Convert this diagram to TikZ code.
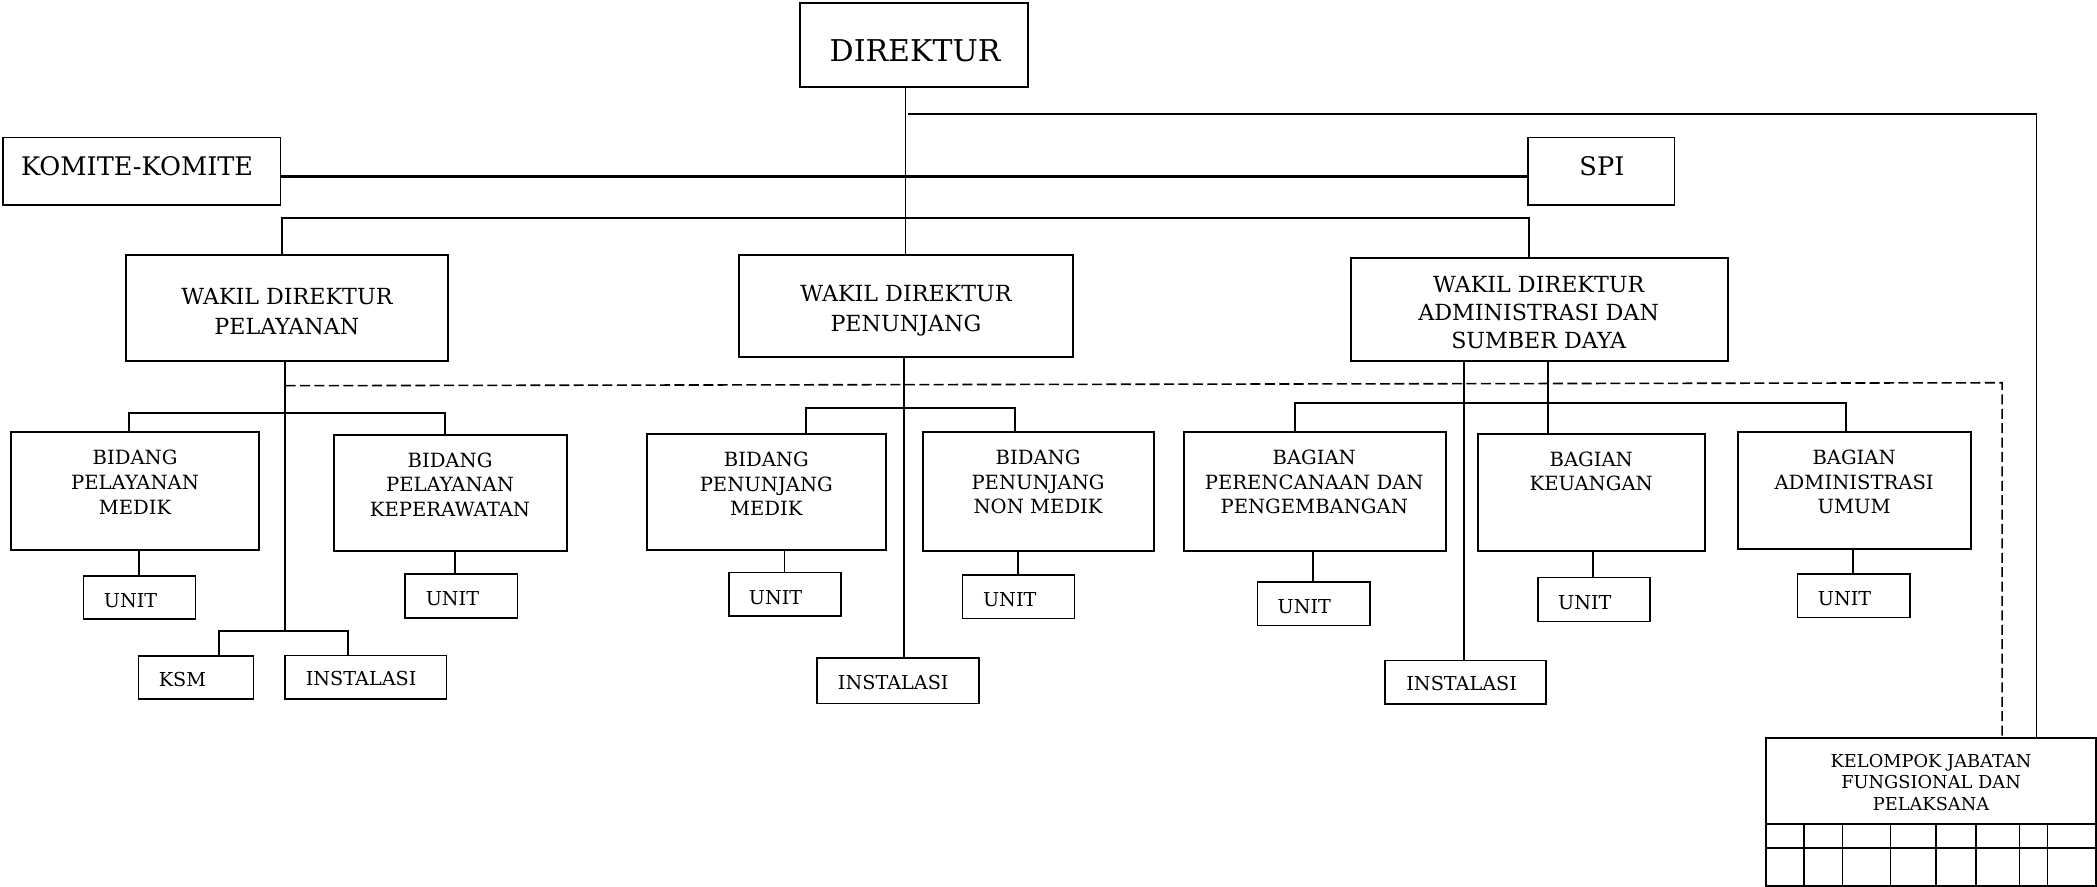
\documentclass[tikz,border=0pt]{standalone}
\usepackage{fontspec}
\setmainfont{DejaVu Serif}
\usetikzlibrary{fit}
\begin{document}
\begin{tikzpicture}[x=0.66869pt,y=-0.66869pt,
  bx/.style={draw, line width=1pt, inner sep=0pt},
  sbx/.style={draw, line width=0.8pt, inner sep=0pt},
  ln/.style={line width=1pt},
  thinln/.style={line width=0.8pt},
  dsh/.style={line width=0.8pt, dash pattern=on 5pt off 2.2pt},
  tbig/.style={inner sep=0pt, font=\fontsize{15}{18}\selectfont},
  tmid/.style={inner sep=0pt, font=\fontsize{12.8}{15}\selectfont},
  twd/.style={inner sep=0pt, align=center, font=\fontsize{11.1}{15}\selectfont},
  twda/.style={inner sep=0pt, align=center, font=\fontsize{11.1}{14}\selectfont},
  tbid/.style={inner sep=0pt, align=center, font=\fontsize{9.8}{12.4}\selectfont},
  tsm/.style={inner sep=0pt, font=\fontsize{9.6}{12}\selectfont},
  tkjf/.style={inner sep=0pt, align=center, font=\fontsize{8.9}{10.8}\selectfont}]
\useasboundingbox (0,0) rectangle (1568,663);
% boxes
\node[bx, fit={(598,2.5)(769,65.3)}] (dir) {};
\node[bx, line width=0.8pt, fit={(2.1,102.7)(209.8,153.5)}] (kom) {};
\node[bx, line width=0.8pt, fit={(1142.7,102.7)(1252,153.5)}] (spi) {};
\node[bx, fit={(94.4,190.7)(334.7,270)}] (wdpel) {};
\node[bx, fit={(552.3,190.7)(802,267.2)}] (wdpen) {};
\node[bx, fit={(1010.3,193.2)(1291.8,269.9)}] (wdadm) {};
\node[bx, fit={(8.3,323.3)(193.6,411.5)}] (bpm) {};
\node[bx, fit={(249.7,325.5)(424,412)}] (bpk) {};
\node[bx, fit={(483.7,324.8)(662.6,411.3)}] (bpem) {};
\node[bx, fit={(689.8,323.3)(862.6,411.8)}] (bpnm) {};
\node[bx, fit={(885.6,323.3)(1081.1,412)}] (bpp) {};
\node[bx, fit={(1105.2,324.8)(1274.9,412)}] (keu) {};
\node[bx, fit={(1299.2,323.3)(1473.5,410.5)}] (bau) {};
\node[sbx, fit={(62.4,430.7)(146.2,463)}] (u1) {};
\node[sbx, fit={(303,429.2)(387,461.9)}] (u2) {};
\node[sbx, fit={(545,428.2)(628.8,460.8)}] (u3) {};
\node[sbx, fit={(719.8,430)(803.4,462.6)}] (u4) {};
\node[sbx, fit={(940.3,435.2)(1024.2,467.8)}] (u5) {};
\node[sbx, fit={(1149.8,431.9)(1233.8,464.6)}] (u6) {};
\node[sbx, fit={(1343.9,429)(1428,461.6)}] (u7) {};
\node[sbx, fit={(103.5,490.5)(189.6,522.7)}] (ksm) {};
\node[sbx, fit={(213,490)(333.8,522.7)}] (i1) {};
\node[sbx, fit={(611.1,492.2)(731.8,525.9)}] (i2) {};
\node[sbx, fit={(1035.6,494)(1156.1,526.4)}] (i3) {};
\node[sbx, fit={(1320.5,552)(1567.2,662.3)}] (kjf) {};
% grid inside kjf
\draw[thinln] (1320.5,616.3) -- (1567.2,616.3);
\draw[thinln] (1320.5,633.9) -- (1567.2,633.9);
\foreach \gx in {1348.7,1377.8,1413.7,1447.6,1477.5,1509.9,1531.1}
  \draw[thinln] (\gx,616.3) -- (\gx,662.3);
% texts
\node[tbig, anchor=base] (dir-t) at (684.2,46.1) {DIREKTUR};
\node[tmid, anchor=base] (kom-t) at (102.5,130.9) {KOMITE-KOMITE};
\node[tmid, anchor=base] (spi-t) at (1197.8,131.6) {SPI};
\node[twd] (wdpel-t) at (214.5,232.7) {WAKIL DIREKTUR\\PELAYANAN};
\node[twd] (wdpen-t) at (677.4,232.7) {WAKIL DIREKTUR\\PENUNJANG};
\node[twda] (wdadm-t) at (1150.5,234) {WAKIL DIREKTUR\\ADMINISTRASI DAN\\SUMBER DAYA};
\node[tbid] (bpm-t) at (101,360.4) {BIDANG\\PELAYANAN\\MEDIK};
\node[tbid] (bpk-t) at (336.5,362.4) {BIDANG\\PELAYANAN\\KEPERAWATAN};
\node[tbid] (bpem-t) at (573,361.8) {BIDANG\\PENUNJANG\\MEDIK};
\node[tbid] (bpnm-t) at (776.2,360.4) {BIDANG\\PENUNJANG\\NON MEDIK};
\node[tbid] (bpp-t) at (982.7,360.4) {BAGIAN\\PERENCANAAN DAN\\PENGEMBANGAN};
\node[tbid] (keu-t) at (1189.8,352.4) {BAGIAN\\KEUANGAN};
\node[tbid] (bau-t) at (1386.4,360.4) {BAGIAN\\ADMINISTRASI\\UMUM};
\node[tsm, anchor=base] (u1-t) at (97.6,454.1) {UNIT};
\node[tsm, anchor=base] (u2-t) at (338.3,452.9) {UNIT};
\node[tsm, anchor=base] (u3-t) at (579.9,451.9) {UNIT};
\node[tsm, anchor=base] (u4-t) at (755,453.6) {UNIT};
\node[tsm, anchor=base] (u5-t) at (975.3,458.6) {UNIT};
\node[tsm, anchor=base] (u6-t) at (1185,455.6) {UNIT};
\node[tsm, anchor=base] (u7-t) at (1379.2,452.6) {UNIT};
\node[tsm, anchor=base] (ksm-t) at (136.4,513.4) {KSM};
\node[tsm, anchor=base] (i1-t) at (270,512.9) {INSTALASI};
\node[tsm, anchor=base] (i2-t) at (667.9,515.2) {INSTALASI};
\node[tsm, anchor=base] (i3-t) at (1092.9,516.4) {INSTALASI};
\node[tkjf] (kjf-t) at (1443.9,584.9) {KELOMPOK JABATAN\\FUNGSIONAL DAN\\PELAKSANA};
% connectors: top level
\coordinate (dv) at (677.2,0);
\draw[thinln] (dv |- dir.south) -- (dv |- wdpen.north);
\coordinate (tr1) at (679,85.2);
\coordinate (ks) at (1522.8,552);
\draw[thinln] (tr1) -| (ks);
\coordinate (kl) at (209.8,132.1);
\draw[line width=1.4pt] (kl) -- (kl -| spi.west);
\coordinate (b1) at (210.9,163.3);
\coordinate (b2) at (1143.2,163.3);
\draw[ln] (b1 |- wdpel.north) -- (b1) -- (b2) -- (b2 |- wdadm.north);
% dashed
\coordinate (d0) at (213.6,288.4);
\coordinate (d1) at (1497,286.2);
\draw[dsh] (d0) -- (d1) -- (d1 |- kjf.north);
% pelayanan
\coordinate (pv) at (213,471.6);
\draw[ln] (pv |- wdpel.south) -- (pv);
\coordinate (pb1) at (96.5,308.6);
\coordinate (pb2) at (333.1,308.6);
\draw[ln] (pb1 |- bpm.north) -- (pb1) -- (pb2) -- (pb2 |- bpk.north);
\coordinate (kb1) at (163.6,471.6);
\coordinate (kb2) at (260.4,471.6);
\draw[ln] (kb1 |- ksm.north) -- (kb1) -- (kb2) -- (kb2 |- i1.north);
\coordinate (ux1) at (104.1,420);
\draw[thinln] (ux1 |- bpm.south) -- (ux1 |- u1.north);
\coordinate (ux2) at (340.1,420);
\draw[thinln] (ux2 |- bpk.south) -- (ux2 |- u2.north);
% penunjang
\coordinate (nv) at (675.6,400);
\draw[ln] (nv |- wdpen.south) -- (nv |- i2.north);
\coordinate (nb1) at (602.3,305);
\coordinate (nb2) at (759.3,305);
\draw[ln] (nb1 |- bpem.north) -- (nb1) -- (nb2) -- (nb2 |- bpnm.north);
\coordinate (ux3) at (586.7,420);
\draw[thinln] (ux3 |- bpem.south) -- (ux3 |- u3.north);
\coordinate (ux4) at (761.4,420);
\draw[thinln] (ux4 |- bpnm.south) -- (ux4 |- u4.north);
% administrasi
\coordinate (av1) at (1094.6,400);
\draw[ln] (av1 |- wdadm.south) -- (av1 |- i3.north);
\coordinate (av2) at (1157.4,300);
\draw[ln] (av2 |- wdadm.south) -- (av2 |- keu.north);
\coordinate (ab1) at (968.3,301.3);
\coordinate (ab2) at (1380.5,301.3);
\draw[ln] (ab1 |- bpp.north) -- (ab1) -- (ab2) -- (ab2 |- bau.north);
\coordinate (ux5) at (981.8,420);
\draw[thinln] (ux5 |- bpp.south) -- (ux5 |- u5.north);
\coordinate (ux6) at (1190.9,420);
\draw[thinln] (ux6 |- keu.south) -- (ux6 |- u6.north);
\coordinate (ux7) at (1385.5,420);
\draw[thinln] (ux7 |- bau.south) -- (ux7 |- u7.north);
\end{tikzpicture}
\end{document}
